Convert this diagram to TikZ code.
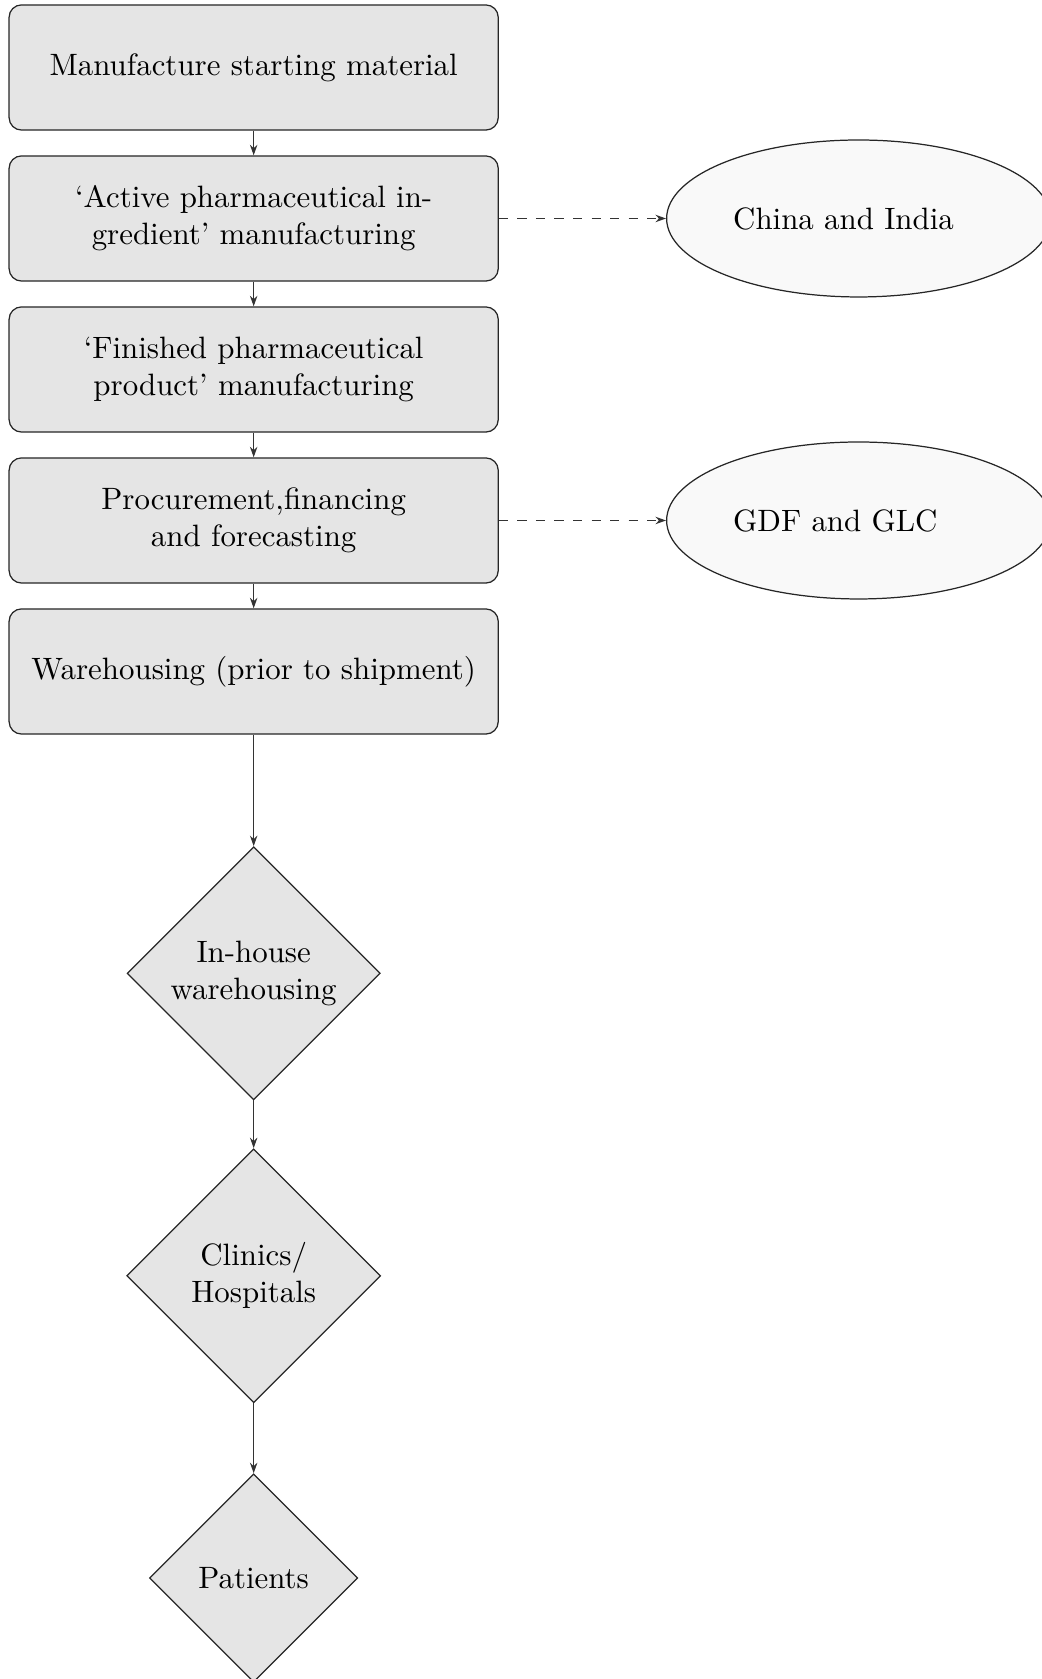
\documentclass[tikz,border=0pt]{standalone}
\usetikzlibrary{shapes.geometric,arrows.meta}
\begin{document}
\begin{tikzpicture}[
  x=1pt,y=1pt,
  stepbox/.style={draw=black!85, fill=gray!20, rounded corners=4pt, minimum width=158.3pt, minimum height=40.5pt, align=center, inner sep=0pt},
  oval/.style={ellipse, draw=black!85, fill=gray!5, minimum width=124.3pt, minimum height=50.8pt, text width=81.2pt, align=left, inner sep=0pt},
  dia/.style={diamond, draw=black!85, fill=gray!20, aspect=1, align=center, inner sep=0pt},
  arr/.style={-{Stealth[length=3.4pt,width=2.4pt]}, black!80},
  darr/.style={arr, dashed}
]
\useasboundingbox (0,0) rectangle (337.2,-543.4);
\node[stepbox] (b1) at (82.1,-21.84) {Manufacture starting material};
\node[stepbox] (b2) at (82.1,-70.71) {‘Active pharmaceutical in-\\gredient’ manufacturing};
\node[stepbox] (b3) at (82.1,-119.58) {‘Finished pharmaceutical\\product’ manufacturing};
\node[stepbox] (b4) at (82.1,-168.45) {Procurement,financing\\and forecasting};
\node[stepbox] (b5) at (82.1,-217.32) {Warehousing (prior to shipment)};
\node[dia, minimum width=81.9pt, minimum height=81.9pt] (d1) at (82.1,-315.0) {In-house\\warehousing};
\node[dia, minimum width=82.2pt, minimum height=82.2pt] (d2) at (82.1,-412.9) {Clinics/\\Hospitals};
\node[dia, minimum width=67.4pt, minimum height=67.4pt] (d3) at (82.1,-510.7) {Patients};
\node[oval] (e1) at (277.9,-70.71) {China and India};
\node[oval] (e2) at (277.9,-168.45) {GDF and GLC};
\draw[arr] (b1) -- (b2);
\draw[arr] (b2) -- (b3);
\draw[arr] (b3) -- (b4);
\draw[arr] (b4) -- (b5);
\draw[arr] (b5) -- (d1);
\draw[arr] (d1) -- (d2);
\draw[arr] (d2) -- (d3);
\draw[darr] (b2) -- (e1);
\draw[darr] (b4) -- (e2);
\end{tikzpicture}
\end{document}
